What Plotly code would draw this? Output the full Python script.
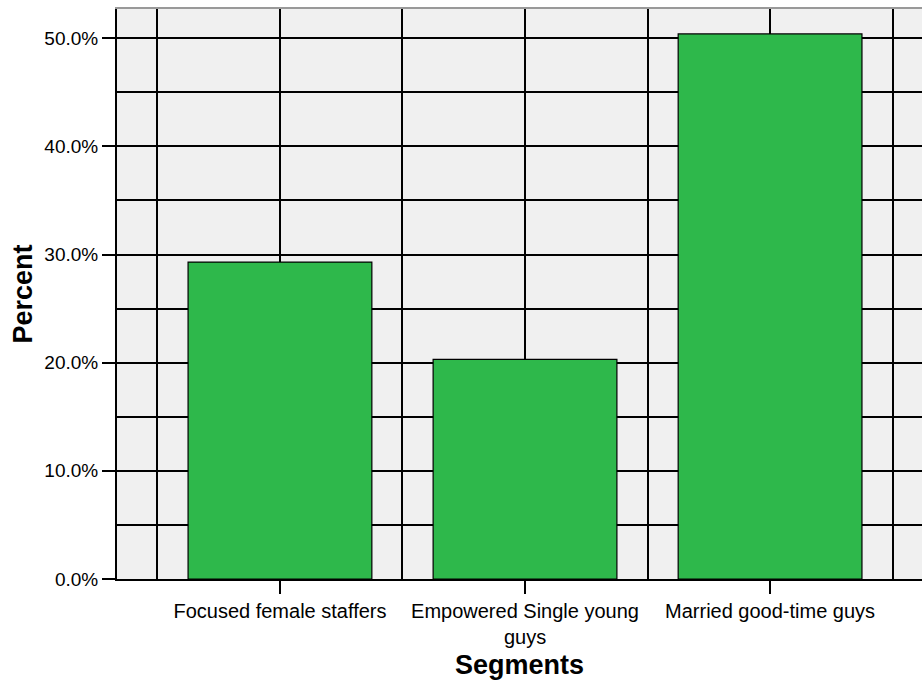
import plotly.graph_objects as go

# Share of respondents in each segment (percent)
segments = ["Focused female staffers", "Empowered Single young guys", "Married good-time guys"]
segment_labels = ["Focused female staffers", "Empowered Single young<br>guys", "Married good-time guys"]
percent = [29.3, 20.3, 50.4]

positions = list(range(len(segments)))
boundaries = [p - 0.5 for p in positions] + [positions[-1] + 0.5]

FONT = "Liberation Sans, Arial, sans-serif"
BAR_GREEN = "#2EB84B"

fig = go.Figure()
fig.add_trace(go.Bar(
    x=positions,
    y=percent,
    width=0.75,
    marker=dict(color=BAR_GREEN, line=dict(color="black", width=1.2)),
    hovertext=segments,
    showlegend=False,
))

fig.update_layout(
    width=922,
    height=680,
    margin=dict(l=117, r=0, t=9, b=101),
    paper_bgcolor="white",
    plot_bgcolor="#F0F0F0",
    font=dict(family=FONT, size=20, color="black"),
    xaxis=dict(
        range=[-0.665, 2.62],
        tickmode="array",
        tickvals=positions,
        ticktext=segment_labels,
        ticks="outside",
        ticklen=13,
        tickwidth=2,
        tickcolor="black",
        showline=True,
        linecolor="black",
        linewidth=2,
        showgrid=True,
        gridcolor="black",
        gridwidth=1.5,
        zeroline=False,
        minor=dict(tickmode="array", tickvals=boundaries, showgrid=True,
                   gridcolor="black", gridwidth=1.5, ticks=""),
        tickfont=dict(size=20),
        title=dict(text="<b>Segments</b>", font=dict(size=27), standoff=8),
    ),
    xaxis2=dict(
        overlaying="x",
        side="top",
        range=[-0.665, 2.62],
        showline=True,
        linecolor="#999999",
        linewidth=2,
        showticklabels=False,
        showgrid=False,
        zeroline=False,
        ticks="",
    ),
    yaxis=dict(
        range=[0, 52.7],
        tickmode="linear",
        tick0=0,
        dtick=10,
        tickformat=".1f",
        ticksuffix="%",
        ticks="outside",
        ticklen=13,
        tickwidth=2,
        tickcolor="black",
        showline=True,
        linecolor="black",
        linewidth=2,
        showgrid=True,
        gridcolor="black",
        gridwidth=1.5,
        zeroline=False,
        minor=dict(dtick=5, tick0=0, showgrid=True, gridcolor="black",
                   gridwidth=1.5, ticks=""),
        tickfont=dict(size=19),
        title=dict(text="<b>Percent</b>", font=dict(size=27), standoff=4),
    ),
)

# Invisible trace so the top frame axis is drawn
fig.add_trace(go.Scatter(x=[positions[0]], y=[0], xaxis="x2", mode="markers",
                         marker=dict(opacity=0), showlegend=False, hoverinfo="skip"))

fig.write_html("out.html")
